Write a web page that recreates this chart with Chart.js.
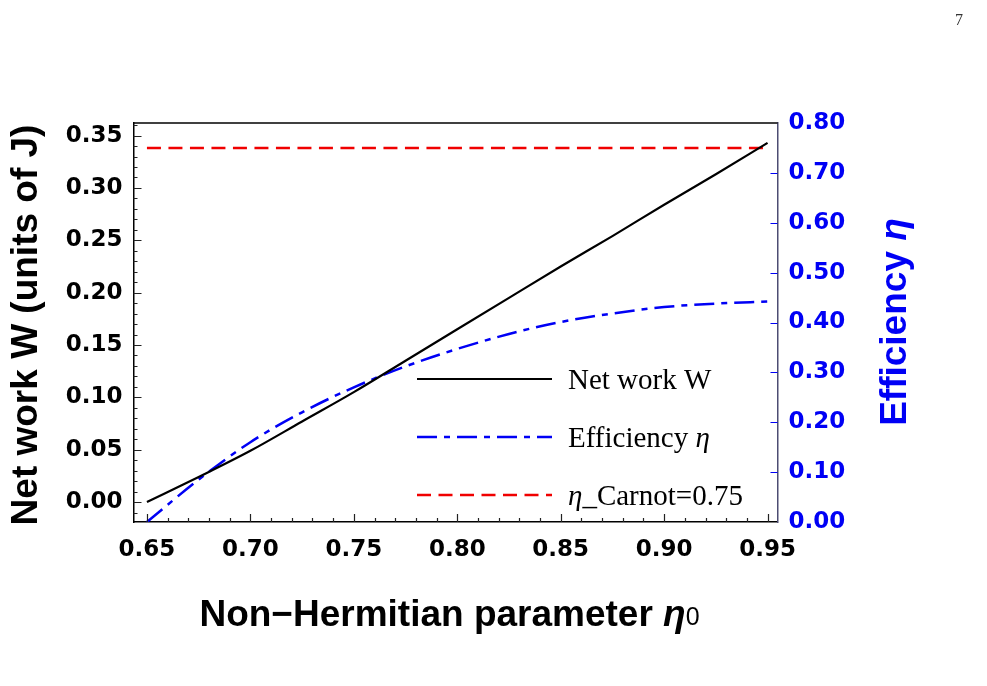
<!DOCTYPE html>
<html>
<head>
<meta charset="utf-8">
<title>Net work and efficiency vs non-Hermitian parameter</title>
<script src="https://cdn.jsdelivr.net/npm/chart.js@4.4.1/dist/chart.umd.min.js"></script>
<style>
  html, body { margin: 0; padding: 0; background: #fff; }
  canvas { display: block; }
</style>
</head>
<body>
<canvas id="chart" width="987" height="686"></canvas>
<script>
// Data
const eta0 = [0.65, 0.675, 0.70, 0.725, 0.75, 0.775, 0.80, 0.825, 0.85, 0.875, 0.90, 0.925, 0.95];
const netWork = [0.000, 0.024, 0.049, 0.077, 0.105, 0.135, 0.165, 0.195, 0.225, 0.254, 0.284, 0.313, 0.343];
const efficiency = [0.000, 0.085, 0.160, 0.220, 0.270, 0.312, 0.347, 0.377, 0.401, 0.418, 0.431, 0.438, 0.442];
const carnotX = [0.65, 0.95];
const carnotEta = [0.75, 0.75];

// Tick labels
const xTicks = [0.65, 0.70, 0.75, 0.80, 0.85, 0.90, 0.95];
const leftTicks = [0.00, 0.05, 0.10, 0.15, 0.20, 0.25, 0.30, 0.35];
const rightTicks = [0.00, 0.10, 0.20, 0.30, 0.40, 0.50, 0.60, 0.70, 0.80];

// Legend labels
const legendLabels = [
  [{ t: 'Net work W' }],
  [{ t: 'Efficiency ' }, { t: 'η', italic: true }],
  [{ t: 'η', italic: true }, { t: '_Carnot=0.75' }]
];

const BLUE = '#0000f5';
const RED = '#f00000';
const tickFont = { family: '"DejaVu Sans", sans-serif', size: 23, weight: 'bold' };
const titleFont = 'bold 37px "Liberation Sans", Arial, sans-serif';
const titleItalic = 'italic bold 37px "Liberation Sans", Arial, sans-serif';

function pairs(xs, ys) {
  return xs.map((x, i) => ({ x: x, y: ys[i] }));
}

// draw a run of text pieces with different fonts, centred or left aligned
function drawRich(ctx, parts, x, y, align) {
  let total = 0;
  parts.forEach(p => { ctx.font = p.font; p.w = ctx.measureText(p.text).width; total += p.w; });
  let cx = align === 'center' ? x - total / 2 : x;
  ctx.textAlign = 'left';
  ctx.textBaseline = 'alphabetic';
  parts.forEach(p => {
    ctx.font = p.font;
    ctx.fillText(p.text, cx, y + (p.dy || 0));
    cx += p.w;
  });
}

const decorations = {
  id: 'decorations',
  afterDraw(chart) {
    const { ctx, chartArea: a, scales } = chart;
    const sx = scales.x, yl = scales.y, yr = scales.y1;
    ctx.save();

    // top frame line
    ctx.strokeStyle = '#000';
    ctx.lineWidth = 1.5;
    ctx.beginPath();
    ctx.moveTo(a.left, a.top);
    ctx.lineTo(a.right, a.top);
    ctx.stroke();

    // inward tick marks
    ctx.lineWidth = 1.2;
    ctx.strokeStyle = '#222';
    ctx.beginPath();
    for (let i = -1; i <= 36; i++) {
      const v = i / 100;
      const py = Math.round(yl.getPixelForValue(v)) + 0.5;
      if (py < a.top || py > a.bottom) continue;
      const len = i % 5 === 0 ? 8 : 4;
      ctx.moveTo(a.left, py);
      ctx.lineTo(a.left + len, py);
    }
    for (let i = 65; i <= 95; i++) {
      const px = Math.round(sx.getPixelForValue(i / 100)) + 0.5;
      const len = i % 5 === 0 ? 8 : 4;
      ctx.moveTo(px, a.bottom);
      ctx.lineTo(px, a.bottom - len);
    }
    ctx.stroke();

    ctx.strokeStyle = BLUE;
    ctx.beginPath();
    rightTicks.slice(1, -1).forEach(v => {
      const py = Math.round(yr.getPixelForValue(v)) + 0.5;
      ctx.moveTo(a.right, py);
      ctx.lineTo(a.right - 7, py);
    });
    ctx.stroke();

    // axis titles
    ctx.fillStyle = '#000';
    drawRich(ctx, [
      { text: 'Non\u2212Hermitian parameter ', font: titleFont },
      { text: 'η', font: titleItalic },
      { text: '0', font: '25px "Liberation Sans Narrow", "Liberation Sans", Arial, sans-serif', dy: -1 }
    ], (a.left + a.right) / 2 - 6, 626, 'center');

    ctx.save();
    ctx.translate(37, 325);
    ctx.rotate(-Math.PI / 2);
    drawRich(ctx, [{ text: 'Net work W (units of J)', font: titleFont }], 0, 0, 'center');
    ctx.restore();

    ctx.save();
    ctx.fillStyle = BLUE;
    ctx.translate(906, 322);
    ctx.rotate(-Math.PI / 2);
    drawRich(ctx, [
      { text: 'Efficiency ', font: titleFont },
      { text: 'η', font: titleItalic }
    ], 0, 0, 'center');
    ctx.restore();

    // legend inside the plot
    const rowY = [379, 437, 495];
    chart.data.datasets.forEach((ds, i) => {
      const y = rowY[i];
      ctx.strokeStyle = ds.borderColor;
      ctx.lineWidth = ds.borderWidth;
      ctx.setLineDash(ds.borderDash || []);
      ctx.beginPath();
      ctx.moveTo(417, y);
      ctx.lineTo(552, y);
      ctx.stroke();
      ctx.setLineDash([]);
      ctx.fillStyle = '#000';
      drawRich(ctx, legendLabels[i].map(p => ({
        text: p.t,
        font: (p.italic ? 'italic ' : '') + '29px "Liberation Serif", "Times New Roman", serif'
      })), 568, y + 10, 'left');
    });

    // page number
    ctx.fillStyle = '#333';
    ctx.font = '16px "Liberation Serif", serif';
    ctx.fillText('7', 955, 25);

    ctx.restore();
  }
};

const ctx = document.getElementById('chart').getContext('2d');
const chart = new Chart(ctx, {
  type: 'line',
  data: {
    datasets: [
      {
        label: 'Net work W',
        data: pairs(eta0, netWork),
        yAxisID: 'y',
        borderColor: '#000',
        borderWidth: 2.2,
        pointRadius: 0,
        cubicInterpolationMode: 'monotone',
        fill: false
      },
      {
        label: 'Efficiency η',
        data: pairs(eta0, efficiency),
        yAxisID: 'y1',
        borderColor: BLUE,
        borderWidth: 2.5,
        borderDash: [20, 7, 6, 7],
        pointRadius: 0,
        cubicInterpolationMode: 'monotone',
        fill: false
      },
      {
        label: 'η_Carnot=0.75',
        data: pairs(carnotX, carnotEta),
        yAxisID: 'y1',
        borderColor: RED,
        borderWidth: 2.5,
        borderDash: [14, 7.5],
        pointRadius: 0,
        fill: false
      }
    ]
  },
  options: {
    responsive: false,
    animation: false,
    devicePixelRatio: 1,
    layout: { padding: { top: 123, left: 0, right: 0, bottom: 0 } },
    plugins: {
      legend: { display: false },
      tooltip: { enabled: false }
    },
    scales: {
      x: {
        type: 'linear',
        min: 0.6435,
        max: 0.9548,
        grid: { display: false, drawTicks: false },
        border: { display: true, color: '#000', width: 1.5 },
        afterBuildTicks: s => { s.ticks = xTicks.map(v => ({ value: v })); },
        afterFit: s => { s.height = 164; },
        ticks: {
          color: '#000',
          font: tickFont,
          padding: 14,
          maxRotation: 0,
          autoSkip: false,
          callback: v => v.toFixed(2)
        }
      },
      y: {
        type: 'linear',
        position: 'left',
        min: -0.019,
        max: 0.362,
        grid: { display: false, drawTicks: false },
        border: { display: true, color: '#000', width: 1.5 },
        afterBuildTicks: s => { s.ticks = leftTicks.map(v => ({ value: v })); },
        afterFit: s => { s.width = 133.5; },
        ticks: {
          color: '#000',
          font: tickFont,
          padding: 11,
          callback: v => v.toFixed(2)
        }
      },
      y1: {
        type: 'linear',
        position: 'right',
        min: 0,
        max: 0.8,
        grid: { display: false, drawTicks: false },
        border: { display: true, color: '#4d4d72', width: 1.5 },
        afterBuildTicks: s => { s.ticks = rightTicks.map(v => ({ value: v })); },
        afterFit: s => { s.width = 209.5; },
        ticks: {
          color: BLUE,
          font: tickFont,
          padding: 11,
          callback: v => v.toFixed(2)
        }
      }
    }
  },
  plugins: [decorations]
});
</script>
</body>
</html>
